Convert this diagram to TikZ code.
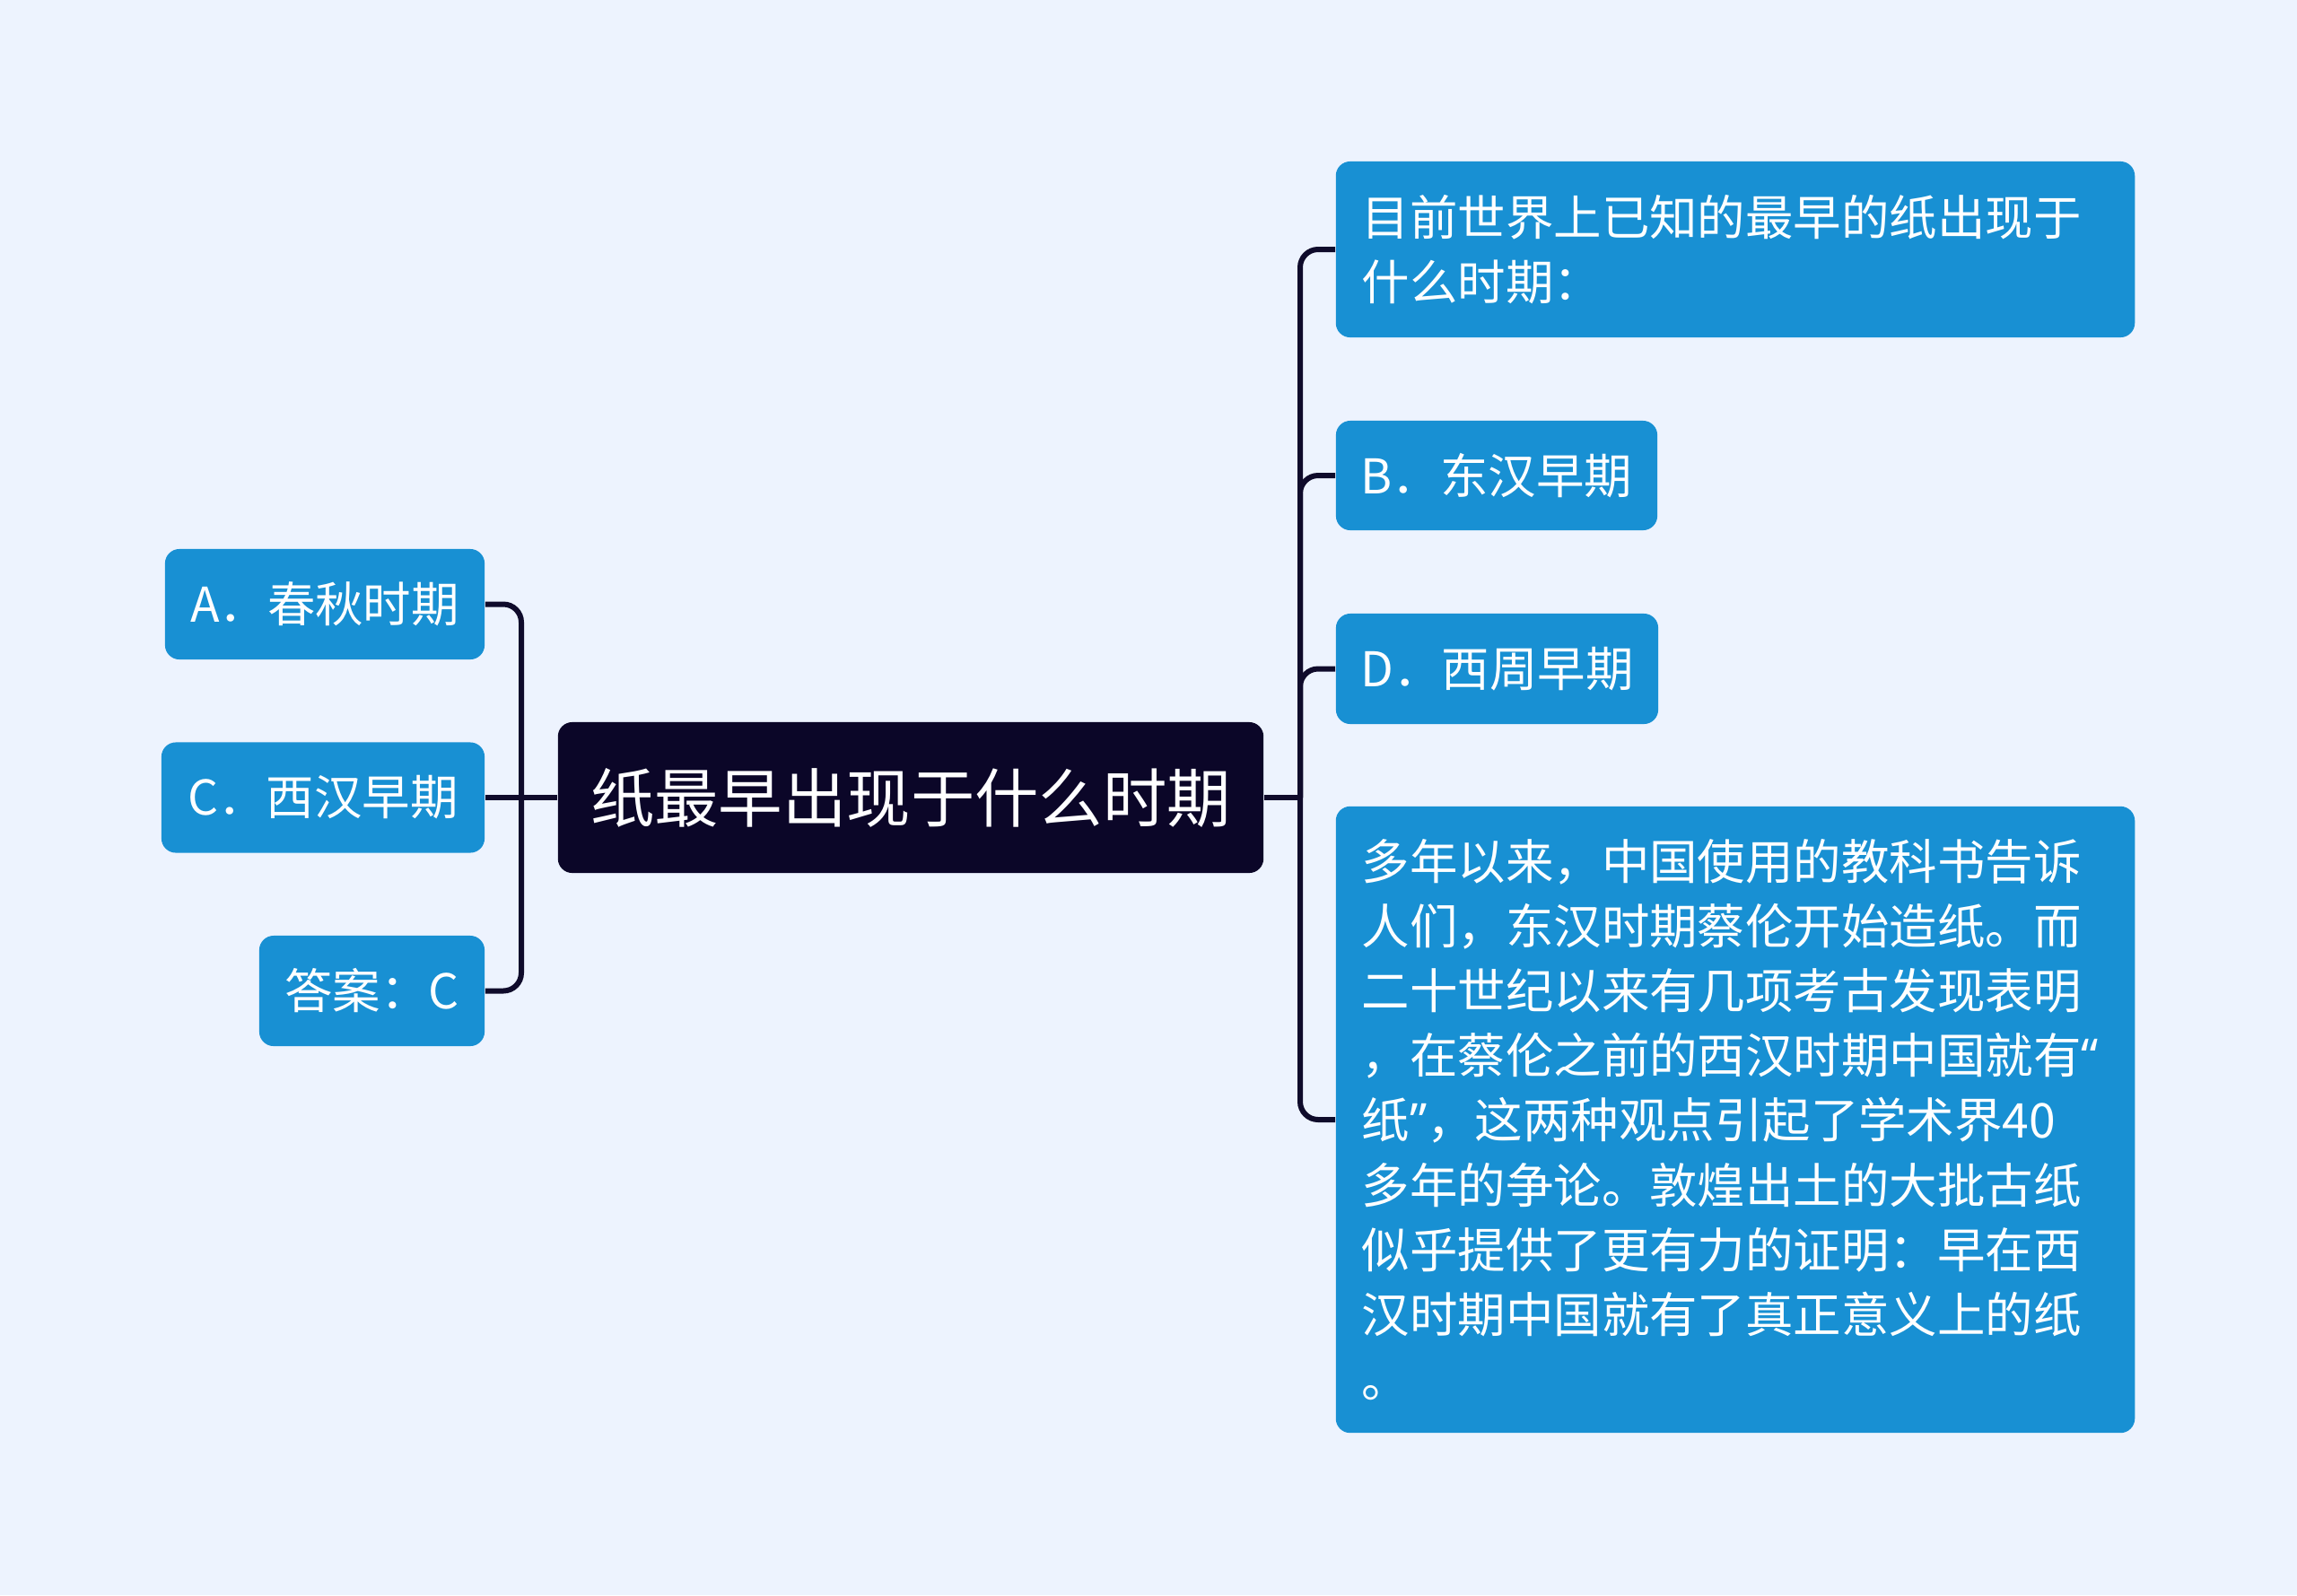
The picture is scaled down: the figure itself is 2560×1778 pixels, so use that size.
\documentclass[tikz,border=0pt]{standalone}
\usepackage{fontspec}
\setmainfont{Noto Sans CJK SC}
\newfontfamily\quotefont{Noto Sans}
\usepackage{xcolor}
\usetikzlibrary{positioning}

\definecolor{bgblue}{HTML}{EDF3FE}
\definecolor{leafblue}{HTML}{1890D3}
\definecolor{topicnavy}{HTML}{0B0628}
\definecolor{connnavy}{HTML}{0F0B2B}

\begin{document}
\begin{tikzpicture}[x=0.01cm,y=-0.01cm,
  optbox/.style={fill=leafblue,text=white,rounded corners=0.16cm,inner sep=0pt,
    minimum height=1.23cm,font=\fontsize{15.2pt}{20.5pt}\selectfont},
  notebox/.style={fill=leafblue,text=white,rounded corners=0.16cm,inner ysep=0pt,
    inner xsep=0.29cm,text width=8.32cm,align=left,
    font=\fontsize{15.2pt}{20.5pt}\selectfont},
  topicbox/.style={fill=topicnavy,text=white,rounded corners=0.16cm,inner sep=0pt,
    minimum width=7.86cm,minimum height=1.68cm,font=\fontsize{20.3pt}{24pt}\selectfont},
  conn/.style={draw=connnavy,line width=0.06cm,rounded corners=0.2cm}]

% Background
\fill[bgblue] (0,0) rectangle (2560,1778);
\useasboundingbox (0,0) rectangle (2560,1778);

% Central topic
\node[topicbox] (topic) at (1015,889) {纸最早出现于什么时期};

% Left branch
\node[optbox,minimum width=3.56cm] (optA) at (362,673.5) {A．春秋时期};
\node[optbox,minimum width=3.60cm] (optC) at (360,889) {C．西汉早期};
\node[optbox,minimum width=2.51cm] (answer) at (414.5,1104.5) {答案：C};

% Right branch
\node[notebox,minimum height=1.96cm] (question) at (1934,278)
  {目前世界上已知的最早的纸出现于\\什么时期：};
\node[optbox,minimum width=3.58cm,minimum height=1.22cm] (optB) at (1668,530) {B．东汉早期};
\node[optbox,minimum width=3.59cm] (optD) at (1668.5,745.5) {D．西周早期};
\node[notebox,minimum height=6.98cm] (detail) at (1934,1248)
  {多年以来，中国使用的教科书告诉\\
   人们，东汉时期蔡伦开始造纸。而\\
   二十世纪以来有几项考古发现表明\\
   ，在蔡伦之前的西汉时期中国就有{\quotefont “}\\
   纸{\quotefont ”}，这两种观点引起了学术界40\\
   多年的争论。敦煌出土的大批古纸\\
   似乎提供了更有力的证明：早在西\\
   汉时期中国就有了真正意义上的纸\\
   。};

% Junctions
\coordinate (lbus) at (581,889);
\coordinate (rbus) at (1449,889);

% Connectors
\draw[conn] (topic.west) -- (optC.east);
\draw[conn] (lbus) |- (optA.east);
\draw[conn] (lbus) |- (answer.east);
\draw[conn] (topic.east) -- (rbus);
\foreach \n in {question,optB,optD,detail}
  \draw[conn] (rbus) |- (\n.west);

\end{tikzpicture}
\end{document}
